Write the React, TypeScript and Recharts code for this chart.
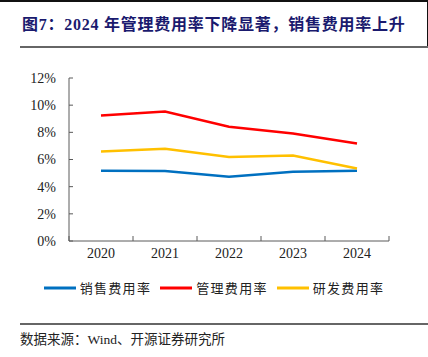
import React from "react";
import { LineChart, Line, XAxis, YAxis, Legend } from "recharts";

const categories = ["2020", "2021", "2022", "2023", "2024"];
const salesRate = [5.17, 5.15, 4.73, 5.1, 5.17];
const adminRate = [9.24, 9.53, 8.41, 7.92, 7.18];
const rdRate = [6.59, 6.79, 6.18, 6.3, 5.34];
const yTicks = [0, 2, 4, 6, 8, 10, 12];
const seriesNames = ["销售费用率", "管理费用率", "研发费用率"];
const seriesColors = ["#0070C0", "#FF0000", "#FFC000"];

const data = categories.map((c, i) => ({
  x: i + 0.5,
  cat: c,
  sales: salesRate[i],
  admin: adminRate[i],
  rd: rdRate[i],
}));

const xTicks: number[] = [];
for (let i = 0; i <= categories.length; i++) {
  xTicks.push(i);
  if (i < categories.length) xTicks.push(i + 0.5);
}

const SERIF = "'Liberation Serif', 'Times New Roman', 'Noto Sans CJK SC', serif";
const AXIS = "#5a5a5a";

const XTick = (props: any) => {
  const { x, y, payload } = props;
  const v = payload.value;
  if (Number.isInteger(v)) {
    return <line x1={x} y1={y} x2={x} y2={y - 5} stroke={AXIS} strokeWidth={1} />;
  }
  return (
    <text x={x} y={y + 17} textAnchor="middle" fontFamily={SERIF} fontSize={14} fill="#222">
      {categories[Math.floor(v)]}
    </text>
  );
};

const YTick = (props: any) => {
  const { x, y, payload } = props;
  return (
    <g>
      <line x1={x} y1={y} x2={x + 4} y2={y} stroke={AXIS} strokeWidth={1} />
      <text x={x - 13} y={y} dy="0.35em" textAnchor="end" fontFamily={SERIF} fontSize={14} fill="#222">
        {payload.value + "%"}
      </text>
    </g>
  );
};

const LegendContent = (props: any) => {
  const items = [...(props.payload || [])].sort(
    (a: any, b: any) => seriesNames.indexOf(a.value) - seriesNames.indexOf(b.value)
  );
  return (
    <div style={{ display: "flex", justifyContent: "center", alignItems: "center" }}>
      {items.map((p: any, i: number) => (
        <div key={i} style={{ display: "flex", alignItems: "center", marginRight: i < items.length - 1 ? 9 : 0 }}>
          <svg width={32} height={6} style={{ display: "block" }}>
            <line x1={0} y1={3} x2={32} y2={3} stroke={p.color} strokeWidth={3} />
          </svg>
          <span
            style={{
              marginLeft: 4,
              fontFamily: "'Noto Sans CJK SC', sans-serif",
              fontSize: 13,
              letterSpacing: 1.3,
              color: "#222",
              lineHeight: "16px",
            }}
          >
            {p.value}
          </span>
        </div>
      ))}
    </div>
  );
};

export default function App() {
  return (
    <div style={{ position: "absolute", left: 0, top: 0, width: 428, height: 357, background: "#fff", overflow: "hidden" }}>
      <div style={{ position: "absolute", left: 0, top: 0, width: 428, height: 2, background: "#111" }} />
      <div style={{ position: "absolute", left: 427, top: 0, width: 1, height: 46, background: "#111" }} />
      <div
        style={{
          position: "absolute",
          left: 22,
          top: 14,
          fontFamily: "'Liberation Serif', 'Noto Sans CJK SC', serif",
          fontWeight: "bold",
          fontSize: 16,
          letterSpacing: 0.75,
          color: "#1a1a6e",
          whiteSpace: "nowrap",
          lineHeight: "22px",
        }}
      >
        图7：2024 年管理费用率下降显著，销售费用率上升
      </div>
      <div style={{ position: "absolute", left: 20, top: 46, width: 408, height: 2, background: "#666" }} />
      <div style={{ position: "absolute", left: 0, top: 0 }}>
        <LineChart width={428} height={357} data={data} margin={{ top: 78, right: 39, bottom: 86, left: 0 }}>
          <XAxis
            dataKey="x"
            type="number"
            domain={[0, categories.length]}
            ticks={xTicks}
            interval={0}
            allowDecimals
            height={30}
            tickSize={0}
            tickMargin={0}
            tickLine={false}
            tick={<XTick />}
            axisLine={{ stroke: AXIS, strokeWidth: 1 }}
          />
          <YAxis
            type="number"
            domain={[0, 12]}
            ticks={yTicks}
            interval={0}
            width={69}
            tickSize={0}
            tickMargin={0}
            tickLine={false}
            tick={<YTick />}
            axisLine={{ stroke: AXIS, strokeWidth: 1 }}
          />
          <Legend
            verticalAlign="middle"
            align="center"
            layout="horizontal"
            wrapperStyle={{ top: 280, left: 0, width: 428 }}
            content={<LegendContent />}
          />
          <Line dataKey="sales" name={seriesNames[0]} stroke={seriesColors[0]} strokeWidth={2.5} dot={false} isAnimationActive={false} />
          <Line dataKey="admin" name={seriesNames[1]} stroke={seriesColors[1]} strokeWidth={2.5} dot={false} isAnimationActive={false} />
          <Line dataKey="rd" name={seriesNames[2]} stroke={seriesColors[2]} strokeWidth={2.5} dot={false} isAnimationActive={false} />
        </LineChart>
      </div>
      <div style={{ position: "absolute", left: 20, top: 323, width: 408, height: 2, background: "#666" }} />
      <div
        style={{
          position: "absolute",
          left: 20,
          top: 331,
          fontFamily: "'Liberation Serif', 'Noto Sans CJK SC', serif",
          fontSize: 13.5,
          color: "#222",
          whiteSpace: "nowrap",
          lineHeight: "18px",
        }}
      >
        数据来源：Wind、开源证券研究所
      </div>
    </div>
  );
}
